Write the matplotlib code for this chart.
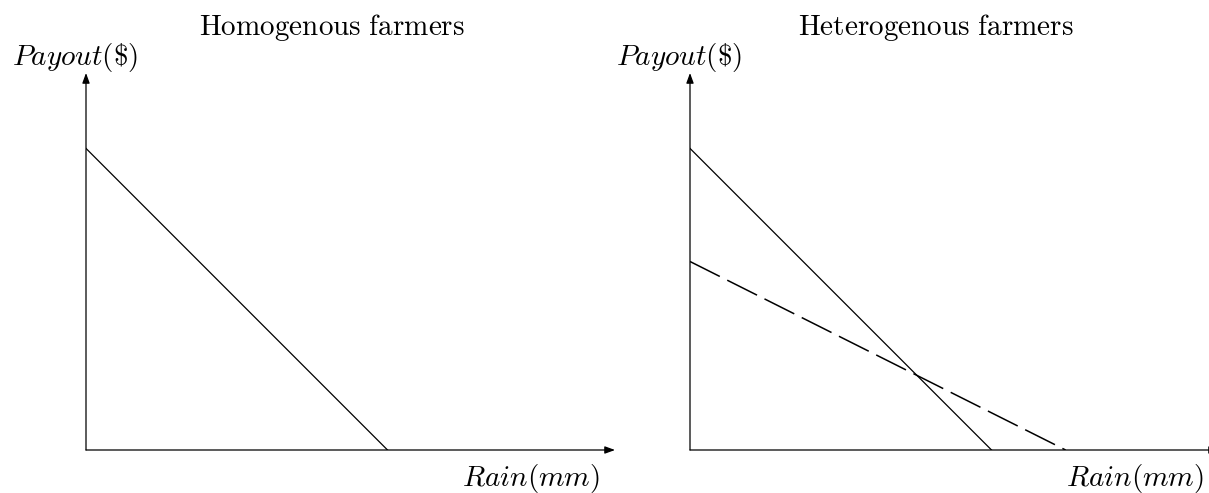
import matplotlib
matplotlib.use("Agg")
import matplotlib.pyplot as plt

plt.rcParams['mathtext.fontset'] = 'cm'
plt.rcParams['lines.scale_dashes'] = False

# payout schedules: (rain, payout) end points
titles = ["Homogenous farmers", "Heterogenous farmers"]
solid_rain = [0, 5.7]
solid_payout = [8, 0]
dashed_rain = [0, 7.1]
dashed_payout = [5, 0]

W, H = 1209, 493
fig = plt.figure(figsize=(W / 100, H / 100), dpi=100)

def px_ax(x0, y_top, x1, y_bot):
    return fig.add_axes([x0 / W, 1 - y_bot / H, (x1 - x0) / W, (y_bot - y_top) / H])

for i, x0 in enumerate([86, 690]):
    ax = px_ax(x0, 73, x0 + 529, 450)
    ax.set_xlim(0, 10)
    ax.set_ylim(0, 10)
    ax.axis('off')
    arrow = dict(arrowstyle='-|>,head_length=0.6,head_width=0.22', color='black',
                 lw=0.9, shrinkA=0, shrinkB=0, mutation_scale=10)
    ax.annotate('', xy=(10, 0), xytext=(0, 0), arrowprops=arrow, annotation_clip=False)
    ax.annotate('', xy=(0, 10), xytext=(0, 0), arrowprops=arrow, annotation_clip=False)

    ax.plot(solid_rain, solid_payout, color='black', lw=0.9)
    if i == 1:
        ax.plot(dashed_rain, dashed_payout, color='black', lw=1.1, dashes=(24, 6))

    fig.text((x0 + 246) / W, 1 - 35 / H, r'$\mathrm{' + titles[i].replace(' ', r'\ ') + '}$',
             ha='center', va='baseline', fontsize=21)
    fig.text((x0 - 11) / W, 1 - 65 / H, r'$Payout(\$)$', ha='center', va='baseline', fontsize=21)
    fig.text((x0 + 445) / W, 1 - 486 / H, r'$Rain(mm)$', ha='center', va='baseline', fontsize=21)

fig.savefig('out.png', dpi=100)
